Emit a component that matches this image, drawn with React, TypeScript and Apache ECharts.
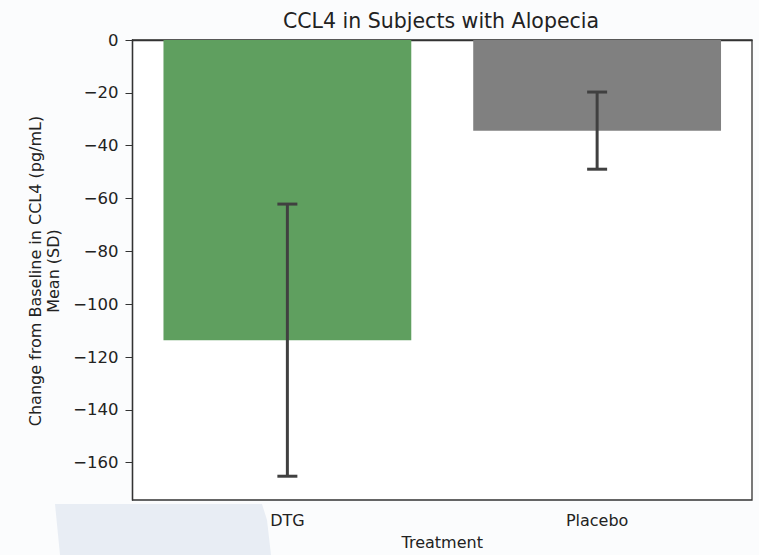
import React, { useEffect, useRef } from "react";
import * as echarts from "echarts";

const categories = ["DTG", "Placebo"];
const means = [-113.6, -34.3];
const sds = [51.5, 14.6];
const barColors = ["#5f9f5f", "#808080"];
const yTicks = [0, -20, -40, -60, -80, -100, -120, -140, -160];
const yMin = -174.1;
const yMax = 0;

const FONT = "DejaVu Sans";

export default function App() {
  const ref = useRef<HTMLDivElement>(null);
  useEffect(() => {
    if (!ref.current) return;
    const chart = echarts.init(ref.current, null, { renderer: "svg" });
    const fmt = (v: number) => (v < 0 ? "\u2212" + Math.abs(v) : String(v));
    const option: any = {
      animation: false,
      backgroundColor: "#fbfcfd",
      textStyle: { fontFamily: FONT },
      grid: {
        left: 132.5,
        right: 7,
        top: 40,
        bottom: 53,
        show: true,
        backgroundColor: "#ffffff",
        borderColor: "#333333",
        borderWidth: 1.3,
        z: 0,
      },
      graphic: [
        {
          type: "polygon",
          z: -100,
          silent: true,
          shape: { points: [[55, 504], [262, 504], [267, 520], [271, 555], [60, 555]] },
          style: { fill: "#e8edf4" },
        },
        {
          type: "text",
          x: 441,
          y: 21,
          style: {
            text: "CCL4 in Subjects with Alopecia",
            font: `20.5px ${FONT}`,
            fill: "#222222",
            textAlign: "center",
            textVerticalAlign: "middle",
          },
        },
        {
          type: "text",
          x: 44,
          y: 271,
          rotation: Math.PI / 2,
          style: {
            text: "Change from Baseline in CCL4 (pg/mL)\nMean (SD)",
            font: `16px ${FONT}`,
            lineHeight: 18,
            fill: "#222222",
            textAlign: "center",
            textVerticalAlign: "middle",
          },
        },
      ],
      xAxis: {
        type: "category",
        data: categories,
        boundaryGap: true,
        name: "Treatment",
        nameLocation: "middle",
        nameGap: 34,
        nameTextStyle: { fontFamily: FONT, fontSize: 16, color: "#222222" },
        axisLine: { show: true, lineStyle: { color: "#333333", width: 1.3 } },
        axisTick: { show: true, alignWithLabel: true, length: 6, lineStyle: { color: "#333333" } },
        axisLabel: { fontFamily: FONT, fontSize: 16, color: "#222222", margin: 12 },
        splitLine: { show: false },
      },
      yAxis: {
        type: "value",
        min: yMin,
        max: yMax,
        axisLine: { show: true, lineStyle: { color: "#333333", width: 1.3 } },
        axisTick: {
          show: true,
          length: 7,
          lineStyle: { color: "#333333" },
          customValues: yTicks,
        },
        axisLabel: {
          fontFamily: FONT,
          fontSize: 16.5,
          color: "#222222",
          margin: 14,
          customValues: yTicks,
          formatter: fmt,
        },
        splitLine: { show: false },
      },
      series: [
        {
          type: "bar",
          barWidth: "80%",
          data: means.map((m, i) => ({ value: m, itemStyle: { color: barColors[i] } })),
          z: 2,
        },
        {
          type: "custom",
          z: 5,
          data: means.map((m, i) => [i, m - sds[i], m + sds[i]]),
          renderItem: (params: any, api: any) => {
            const x = api.value(0);
            const lo = api.coord([x, api.value(1)]);
            const hi = api.coord([x, api.value(2)]);
            const half = 10;
            const style = { stroke: "#404040", lineWidth: 3 };
            return {
              type: "group",
              children: [
                { type: "line", shape: { x1: lo[0], y1: lo[1], x2: hi[0], y2: hi[1] }, style },
                { type: "line", shape: { x1: lo[0] - half, y1: lo[1], x2: lo[0] + half, y2: lo[1] }, style },
                { type: "line", shape: { x1: hi[0] - half, y1: hi[1], x2: hi[0] + half, y2: hi[1] }, style },
              ],
            };
          },
        },
      ],
    };
    chart.setOption(option);
    return () => chart.dispose();
  }, []);
  return (
    <div
      ref={ref}
      style={{ position: "fixed", left: 0, top: 0, width: 759, height: 555 }}
    />
  );
}
